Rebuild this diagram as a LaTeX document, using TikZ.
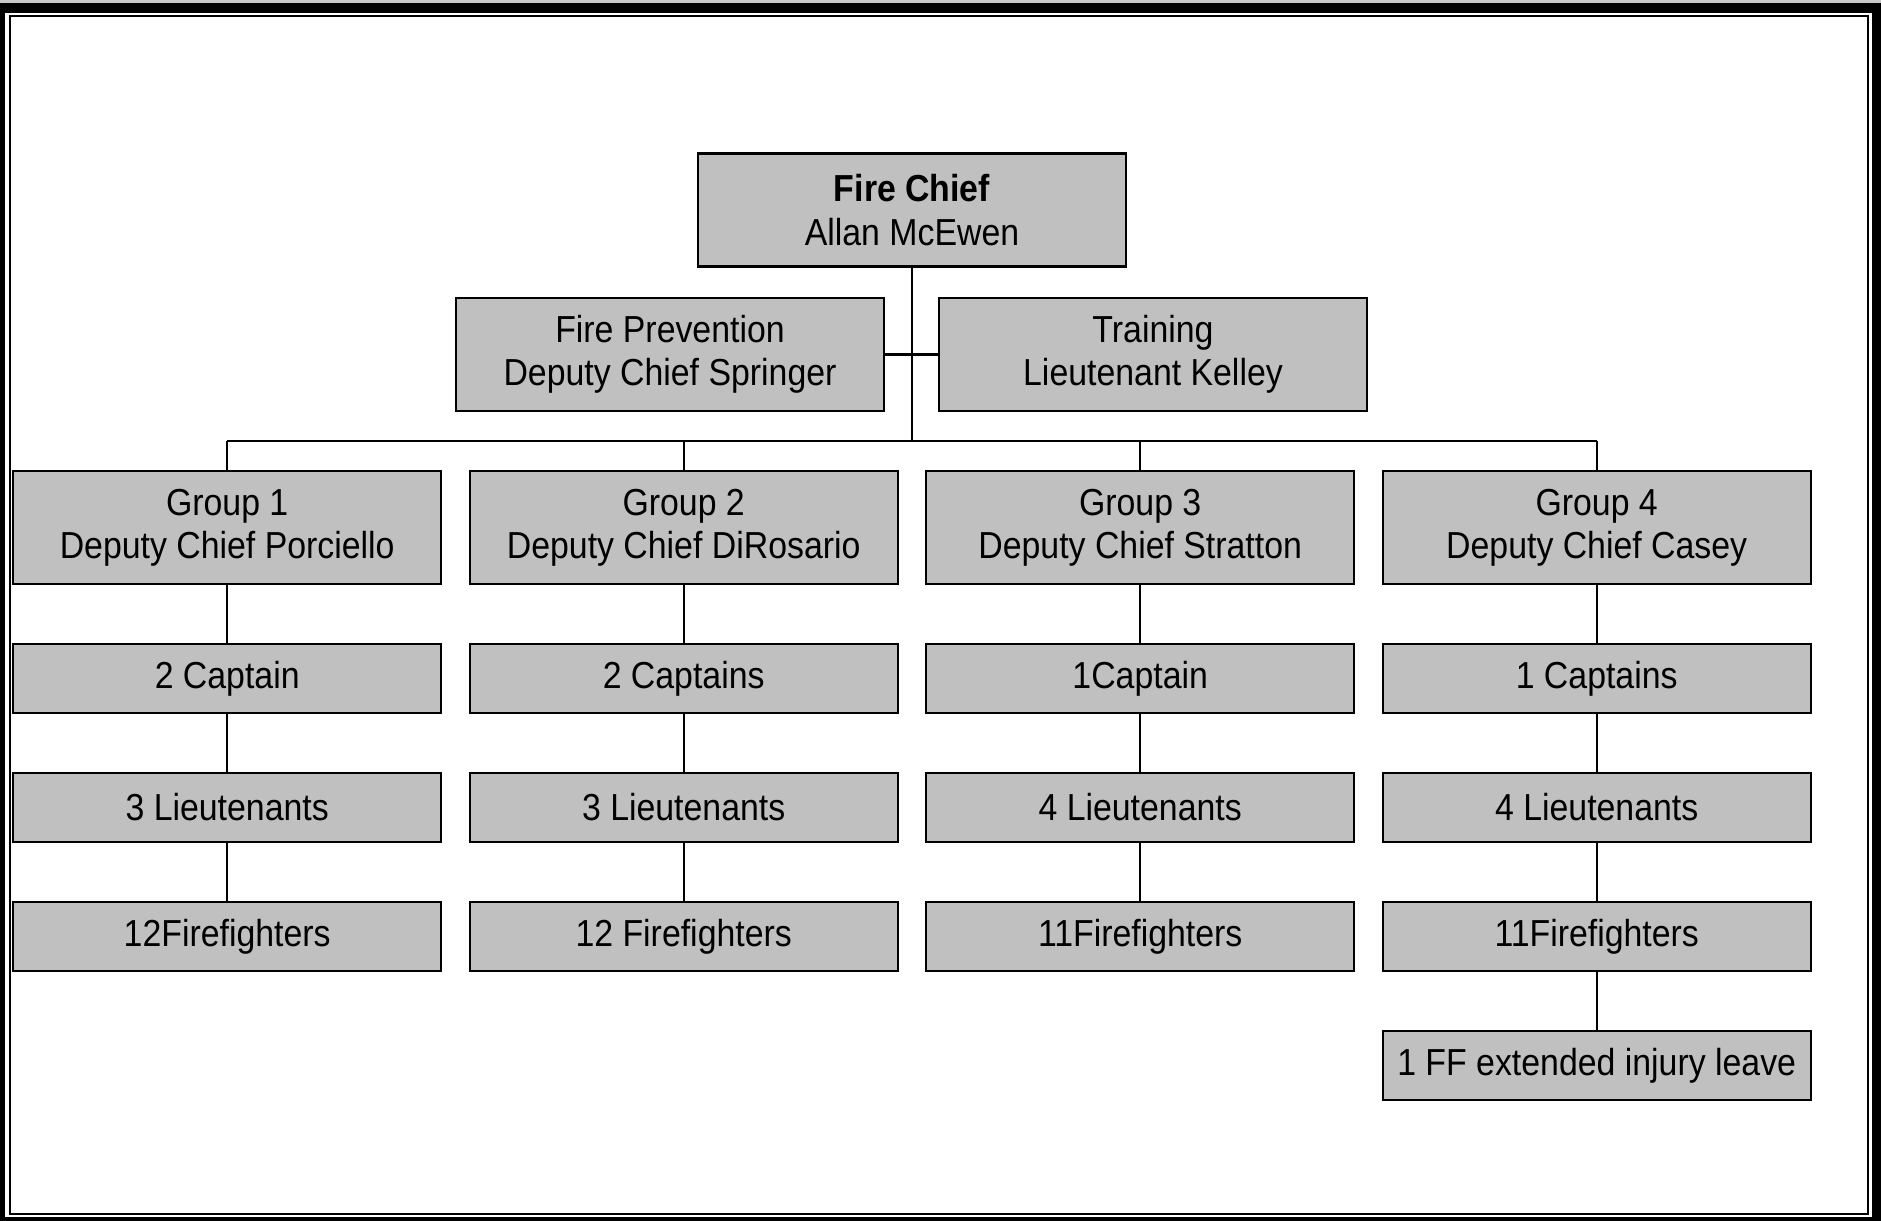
\documentclass[tikz,border=0pt]{standalone}
\usepackage{fontspec}
\setmainfont{Liberation Sans}[FakeStretch=0.9]
\usetikzlibrary{calc}
\definecolor{paper}{HTML}{FFFFFF}
\definecolor{ink}{HTML}{000000}
\definecolor{boxgray}{HTML}{C0C0C0}
\definecolor{edgegray}{HTML}{C8C8C8}
\tikzset{
  orgbox/.style={draw=ink,fill=boxgray,line width=.6pt,minimum width=4.28cm,
                 inner sep=0pt,align=center,font=\boxfont},
  tallbox/.style={orgbox,minimum height=1.13cm},
  rowbox/.style={orgbox,minimum height=.69cm},
  link/.style={draw=ink,line width=.6pt},
  every node/.style={text=ink}
}
\newcommand{\boxfont}{\fontsize{10.7}{12.3}\selectfont}

\begin{document}
\begin{tikzpicture}[x=1cm,y=1cm]
  % frame of the page
  \fill[ink] (0,0) rectangle (18.81,12.21);
  \fill[edgegray] (0,12.18) rectangle (18.81,12.21);
  \fill[paper] (.053,.037) rectangle (18.717,12.083);
  \draw[ink,line width=.5pt] (.10,.067) rectangle (18.677,12.048);

  % ======================== TOP OF THE CHART ========================
  \node[tallbox] (chief) at (9.12,10.11)
    {\textbf{Fire Chief}\\Allan McEwen};
  \node[tallbox] (prevention) at (6.70,8.665)
    {Fire Prevention\\Deputy Chief Springer};
  \node[tallbox] (training) at (11.53,8.665)
    {Training\\Lieutenant Kelley};

  \coordinate (bus) at (9.12,7.80);
  \draw[link] (chief.south)--(bus);
  \draw[link] (prevention.east)--(training.west);

  % ======================== FOUR GROUPS ========================
  \foreach \x/\i/\who/\cap/\lt/\ff in {
      2.272/1/Porciello/2 Captain/3 Lieutenants/12Firefighters,
      6.837/2/DiRosario/2 Captains/3 Lieutenants/12 Firefighters,
      11.402/3/Stratton/1Captain/4 Lieutenants/11Firefighters,
      15.967/4/Casey/1 Captains/4 Lieutenants/11Firefighters}{
    \node[tallbox] (g\i) at (\x,6.935) {Group \i\\Deputy Chief \who};
    \node[rowbox] (c\i) at (\x,5.425) {\cap};
    \node[rowbox] (l\i) at (\x,4.135) {\lt};
    \node[rowbox] (f\i) at (\x,2.845) {\ff};
    \draw[link] (g\i.north |- bus)--(g\i.north);
    \draw[link] (g\i.south)--(c\i.north);
    \draw[link] (c\i.south)--(l\i.north);
    \draw[link] (l\i.south)--(f\i.north);
  }
  \draw[link] (g1.north |- bus)--(g4.north |- bus);

  % extra box under group 4
  \node[rowbox] (leave) at (15.967,1.555) {1 FF extended injury leave};
  \draw[link] (f4.south)--(leave.north);
\end{tikzpicture}
\end{document}
